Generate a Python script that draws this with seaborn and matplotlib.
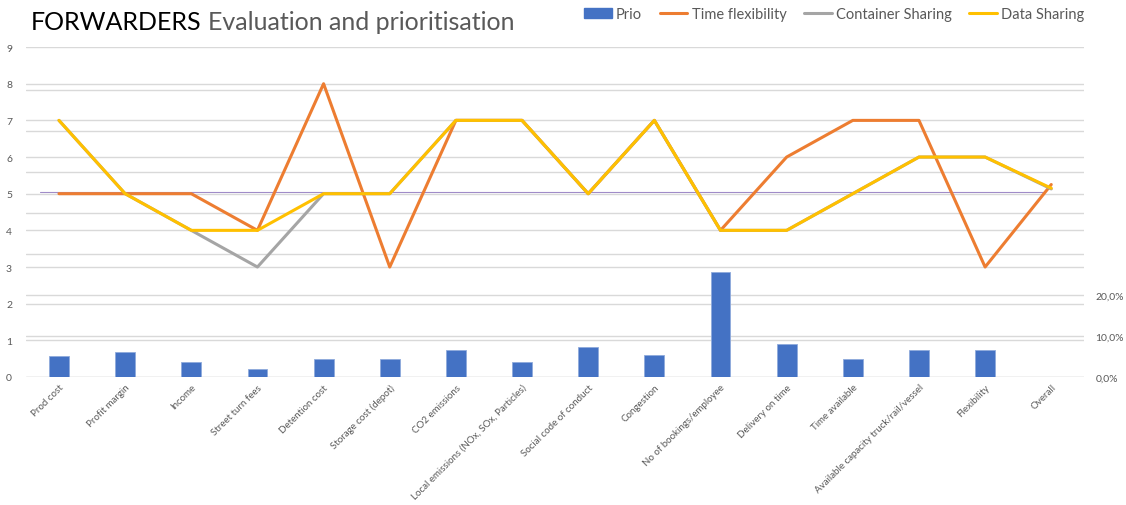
import numpy as np
import pandas as pd
import seaborn as sns
import matplotlib.pyplot as plt
from matplotlib.lines import Line2D
from matplotlib.patches import Patch

#---------------------

categories = ['Prod cost', 'Profit margin', 'Income', 'Street turn fees', 'Detention cost',
              'Storage cost (depot)', 'CO2 emissions', 'Local emissions (NOx, SOx, Particles)',
              'Social code of conduct', 'Congestion', 'No of bookings/employee', 'Delivery on time',
              'Time available', 'Available capacity truck/rail/vessel', 'Flexibility', 'Overall']

prio = [0.050, 0.062, 0.037, 0.020, 0.045, 0.045, 0.067, 0.037,
        0.074, 0.053, 0.256, 0.081, 0.045, 0.066, 0.066, 0.0]
time_flex = [5, 5, 5, 4, 8, 3, 7, 7, 5, 7, 4, 6, 7, 7, 3, 5.25]
container_sharing = [7, 5, 4, 3, 5, 5, 7, 7, 5, 7, 4, 4, 5, 6, 6, 5.13]
data_sharing = [7, 5, 4, 4, 5, 5, 7, 7, 5, 7, 4, 4, 5, 6, 6, 5.15]

right_ticks = [0.0, 0.1, 0.2, 0.3, 0.4, 0.5, 0.6, 0.7]
right_labels = ['0,0%', '10,0%', '20,0%', '', '', '', '', '']

#---------------------

BLUE, ORANGE, GREY, YELLOW = '#4472C4', '#ED7D31', '#A5A5A5', '#FFC000'
TXT = '#595959'
GRID = '#D9D9D9'

sns.set_style('white')
plt.rcParams['font.family'] = ['Lato', 'DejaVu Sans']

df = pd.DataFrame({'cat': categories, 'pos': np.arange(len(categories)), 'prio': prio,
                   'Time flexibility': time_flex, 'Container Sharing': container_sharing,
                   'Data Sharing': data_sharing})

fig = plt.figure(figsize=(11.26, 5.06), dpi=100)
ax = fig.add_axes([0.023, 0.253, 0.94, 0.652])   # left scale + grid (bottom layer)
ax2 = ax.twinx()                                  # right scale + bars
ax3 = ax.twinx()                                  # lines on top

# bars on secondary axis
sns.barplot(data=df, x='pos', y='prio', ax=ax2, color=BLUE, width=0.3, saturation=1,
            edgecolor='#8FAADC', linewidth=0.6, zorder=3)
ax2.set_ylim(0, 0.805)
ax2.set_yticks(right_ticks, right_labels)
ax2.grid(axis='y', color=GRID, lw=1)
ax2.set_axisbelow(True)
ax2.set_ylabel('')
ax2.tick_params(axis='y', length=0, labelsize=7.5, labelcolor=TXT, pad=8)
ax2.patch.set_visible(False)

# left axis: ticks and grid only
ax.set_ylim(0, 9)
ax.set_yticks(range(10))
ax.grid(axis='y', color=GRID, lw=1)
ax.tick_params(axis='y', length=0, labelsize=7.5, labelcolor=TXT, pad=10)

# lines
sns.lineplot(data=df, x='pos', y='Time flexibility', ax=ax3, color=ORANGE, lw=2.2)
sns.lineplot(data=df, x='pos', y='Container Sharing', ax=ax3, color=GREY, lw=2.2)
sns.lineplot(data=df, x='pos', y='Data Sharing', ax=ax3, color=YELLOW, lw=2.2)
ax3.axhline(5.05, xmin=0.013, xmax=0.963, color='#A08CC8', lw=0.8, zorder=1)
ax3.set_ylim(0, 9)
ax3.set_yticks([])
ax3.set_ylabel('')
ax3.patch.set_visible(False)

ax.set_xlim(-0.5, len(categories) - 0.5)
ax3.set_xlim(-0.5, len(categories) - 0.5)
ax.set_xticks(df['pos'], categories)
plt.setp(ax.get_xticklabels(), rotation=45, ha='right', rotation_mode='anchor')
for a in (ax, ax2, ax3):
    a.tick_params(axis='x', length=0, labelsize=7.0, labelcolor=TXT, pad=4)
    a.set_xlabel('')
    for s in a.spines.values():
        s.set_visible(False)

# title: black first word, grey rest
t1 = fig.text(0.027, 0.955, 'FORWARDERS', fontsize=18, color='black', va='center')
ax.annotate('Evaluation and prioritisation', xy=(1, 0.5), xycoords=t1, xytext=(5, 0),
            textcoords='offset points', fontsize=18, color=TXT, va='center', ha='left',
            annotation_clip=False)

handles = [Patch(facecolor=BLUE, edgecolor=BLUE),
           Line2D([], [], color=ORANGE, lw=2.2),
           Line2D([], [], color=GREY, lw=2.2),
           Line2D([], [], color=YELLOW, lw=2.2)]
fig.legend(handles, ['Prio', 'Time flexibility', 'Container Sharing', 'Data Sharing'],
           loc='center right', bbox_to_anchor=(0.975, 0.97), ncol=4, frameon=False,
           fontsize=10.5, labelcolor=TXT, handlelength=1.9, handletextpad=0.3, columnspacing=1.2)

fig.savefig('out.png', dpi=100)
